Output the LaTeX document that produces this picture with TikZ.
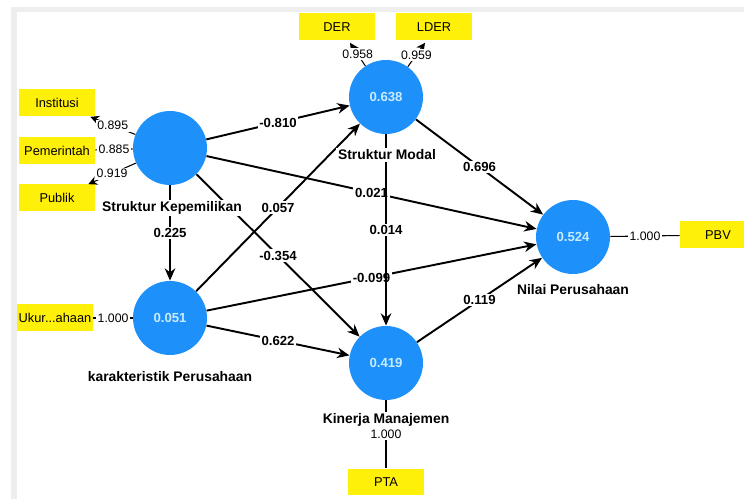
\documentclass[tikz,border=0pt]{standalone}
\usepackage{fontspec}
\setmainfont{Liberation Sans}
\usepackage{tikz}
\usetikzlibrary{arrows.meta, positioning}
\definecolor{plsBlue}{RGB}{30, 144, 250}
\definecolor{plsYellow}{RGB}{255, 240, 10}
\definecolor{plsText}{RGB}{200, 235, 255}
\definecolor{plsFrame}{RGB}{238, 238, 238}

\begin{document}
\begin{tikzpicture}[x=0.02cm, y=-0.02cm,
  latent/.style={circle, fill=plsBlue, minimum size=1.48cm, inner sep=0pt,
                 text=plsText, font=\fontsize{7.5}{9}\selectfont\bfseries},
  indic/.style={rectangle, fill=plsYellow, minimum width=1.52cm,
                minimum height=0.54cm, inner sep=1pt,
                font=\fontsize{7.3}{9}\selectfont},
  lname/.style={font=\fontsize{7.9}{9}\selectfont\bfseries, fill=white, inner sep=1pt},
  coef/.style={font=\fontsize{7.5}{9}\selectfont\bfseries, fill=white, inner sep=1pt},
  load/.style={font=\fontsize{7}{9}\selectfont, fill=white, inner sep=1pt},
  arr/.style={-{Stealth[length=7pt, width=6pt]}, line width=1.1pt},
  ldg/.style={-{Stealth[length=5pt, width=5pt]}, line width=0.6pt},
  lin/.style={line width=0.6pt},
]
  \useasboundingbox (0,0) rectangle (744,499);

  % Frame strips
  \fill[plsFrame] (11,7) rectangle (744,12);
  \fill[plsFrame] (11,7) rectangle (17,499);

  % Latent variables
  \node[latent] (sk) at (170,148) {};
  \node[latent] (sm) at (386,97)  {0.638};
  \node[latent] (kp) at (170,318) {0.051};
  \node[latent] (km) at (386,363) {0.419};
  \node[latent] (np) at (573,237) {0.524};

  % Indicators
  \node[indic] (inst) at (57,103)  {Institusi};
  \node[indic] (pem)  at (57,151)  {Pemerintah};
  \node[indic] (pub)  at (57,198)  {Publik};
  \node[indic] (der)  at (337,27)  {DER};
  \node[indic] (lder) at (434,27)  {LDER};
  \node[indic] (ukur) at (55,318)  {Ukur...ahaan};
  \node[indic] (pbv)  at (718,235) {PBV};
  \node[indic] (pta)  at (386,482) {PTA};

  % Outer loadings
  \draw[ldg] (sk) -- node[load]{0.895} ([xshift=-0.1cm]inst.south east);
  \draw[lin] (sk) -- node[load]{0.885} (pem);
  \draw[ldg] (sk) -- node[load]{0.919} ([xshift=-0.14cm]pub.north east);
  \draw[ldg] (sm) -- node[load]{0.958} ([xshift=0.26cm, yshift=-0.04cm]der.south);
  \draw[ldg] (sm) -- node[load]{0.959} ([xshift=-0.18cm, yshift=-0.04cm]lder.south);
  \draw[lin] (kp) -- node[load]{1.000} (ukur);
  \draw[lin] (np) -- node[load]{1.000} (pbv);
  \draw[lin] (km) -- node[load]{1.000} (pta);

  % Path coefficients
  \draw[arr] (sk) -- node[coef]{-0.810} (sm);
  \draw[arr] (sk) -- node[coef]{0.021} (np);
  \draw[arr] (sk) -- node[coef]{0.225} (sk |- kp.north);
  \draw[arr] (sk) -- node[coef]{-0.354} (km);
  \draw[arr] (kp) -- node[coef]{0.057} (sm);
  \draw[arr] (kp) -- node[coef]{-0.099} (np);
  \draw[arr] (kp) -- node[coef]{0.622} (km);
  \draw[arr] (sm) -- node[coef]{0.696} (np);
  \draw[arr] (sm) -- node[coef]{0.014} (km);
  \draw[arr] (km) -- node[coef]{0.119} (np);

  % Construct names
  \node[lname] (sklbl) at (172,208) {Struktur Kepemilikan};
  \node[lname] (smlbl) at (387,155) {Struktur Modal};
  \node[lname] (kplbl) at (170,377) {karakteristik Perusahaan};
  \node[lname] (kmlbl) at (386,420) {Kinerja Manajemen};
  \node[lname] (nplbl) at (573,290) {Nilai Perusahaan};

\end{tikzpicture}
\end{document}
